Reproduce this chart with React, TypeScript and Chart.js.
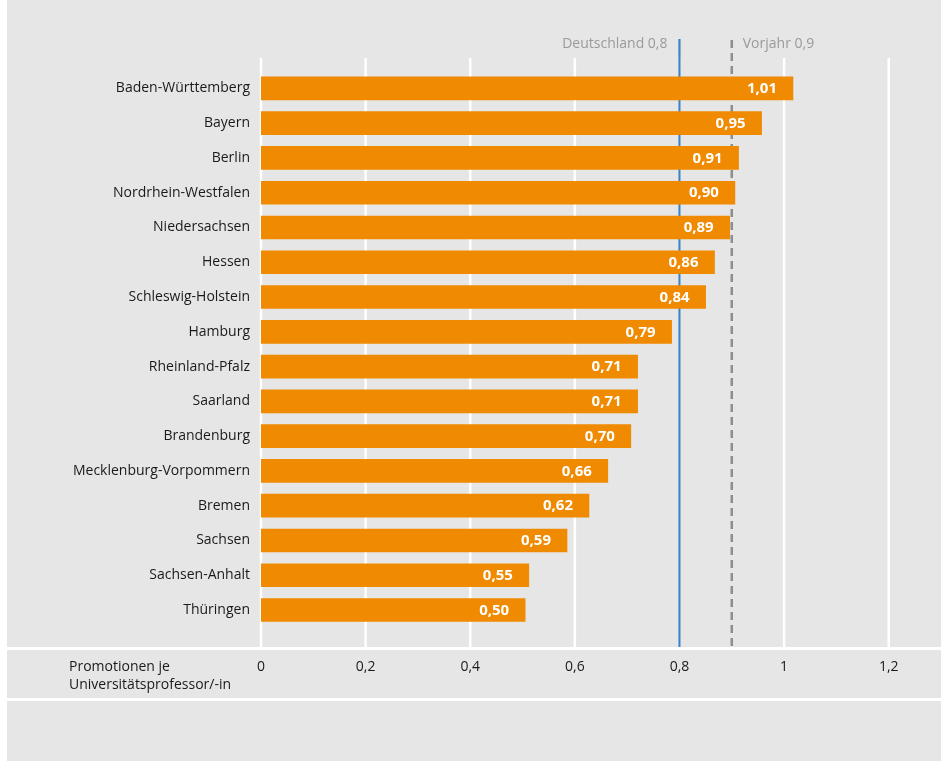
import React, { useEffect, useRef } from "react";
import { Chart, registerables } from "chart.js";

Chart.register(...registerables);

const categories = [
  "Baden-Württemberg",
  "Bayern",
  "Berlin",
  "Nordrhein-Westfalen",
  "Niedersachsen",
  "Hessen",
  "Schleswig-Holstein",
  "Hamburg",
  "Rheinland-Pfalz",
  "Saarland",
  "Brandenburg",
  "Mecklenburg-Vorpommern",
  "Bremen",
  "Sachsen",
  "Sachsen-Anhalt",
  "Thüringen",
];
// bar lengths
const values = [1.017, 0.957, 0.913, 0.906, 0.896, 0.867, 0.85, 0.785, 0.72, 0.72, 0.707, 0.663, 0.627, 0.585, 0.512, 0.505];
// value labels as printed in the picture
const valueLabels = ["1,01", "0,95", "0,91", "0,90", "0,89", "0,86", "0,84", "0,79", "0,71", "0,71", "0,70", "0,66", "0,62", "0,59", "0,55", "0,50"];
const germanyValue = 0.8;
const germanyLabel = "Deutschland 0,8";
const previousYearValue = 0.9;
const previousYearLabel = "Vorjahr 0,9";
const axisTitleLines = ["Promotionen je", "Universitätsprofessor/-in"];
const tickValues = [0, 0.2, 0.4, 0.6, 0.8, 1, 1.2];

const FONT = "'Open Sans', 'Noto Sans', sans-serif";
const W = 934;
const H = 761;

const fmt = (v: number) => String(Math.round(v * 10) / 10).replace(".", ",");

const decorPlugin = {
  id: "decor",
  beforeDatasetsDraw(chart: any) {
    const ctx = chart.ctx;
    const xs = chart.scales.x;
    ctx.save();
    // horizontal separators
    ctx.strokeStyle = "#ffffff";
    ctx.lineWidth = 3;
    [648.5, 699.5].forEach((y) => {
      ctx.beginPath();
      ctx.moveTo(0, y);
      ctx.lineTo(W, y);
      ctx.stroke();
    });
    // vertical gridlines
    ctx.lineWidth = 2.5;
    tickValues.forEach((v) => {
      const x = xs.getPixelForValue(v);
      ctx.beginPath();
      ctx.moveTo(x, 58);
      ctx.lineTo(x, 647);
      ctx.stroke();
    });
    // Germany line
    const gx = xs.getPixelForValue(germanyValue);
    ctx.strokeStyle = "#3f82c4";
    ctx.lineWidth = 2.2;
    ctx.beginPath();
    ctx.moveTo(gx, 39);
    ctx.lineTo(gx, 647);
    ctx.stroke();
    // previous-year line
    const px = xs.getPixelForValue(previousYearValue);
    ctx.strokeStyle = "#8e8e8e";
    ctx.lineWidth = 2.5;
    ctx.setLineDash([8, 5]);
    ctx.beginPath();
    ctx.moveTo(px, 40);
    ctx.lineTo(px, 647);
    ctx.stroke();
    ctx.setLineDash([]);
    // labels
    ctx.font = `14px ${FONT}`;
    ctx.fillStyle = "#9a9a9a";
    ctx.textBaseline = "middle";
    ctx.textAlign = "right";
    ctx.fillText(germanyLabel, gx - 12, 44);
    ctx.textAlign = "left";
    ctx.fillText(previousYearLabel, px + 11, 44);
    // axis title
    ctx.fillStyle = "#1a1a1a";
    ctx.fillText(axisTitleLines[0], 62, 667);
    ctx.fillText(axisTitleLines[1], 62, 685);
    ctx.restore();
  },
  afterDatasetsDraw(chart: any) {
    const ctx = chart.ctx;
    const meta = chart.getDatasetMeta(0);
    ctx.save();
    ctx.font = `bold 15px ${FONT}`;
    ctx.fillStyle = "#ffffff";
    ctx.textAlign = "right";
    ctx.textBaseline = "middle";
    meta.data.forEach((bar: any, i: number) => {
      ctx.fillText(valueLabels[i], bar.x - 16, bar.y + 0.5);
    });
    ctx.restore();
  },
};

export default function App() {
  const ref = useRef<HTMLCanvasElement | null>(null);
  useEffect(() => {
    if (!ref.current) return;
    const chart = new Chart(ref.current, {
      type: "bar",
      data: {
        labels: categories,
        datasets: [
          {
            data: values,
            backgroundColor: "#f08a00",
            borderWidth: 0,
            barThickness: 23,
          },
        ],
      },
      options: {
        indexAxis: "y",
        animation: false,
        responsive: false,
        maintainAspectRatio: false,
        layout: { padding: { top: 71, left: 0, right: 0, bottom: 0 } },
        plugins: { legend: { display: false }, tooltip: { enabled: false } },
        scales: {
          x: {
            type: "linear",
            min: 0,
            max: 1.3,
            border: { display: false },
            grid: { display: false, drawTicks: false },
            ticks: {
              stepSize: 0.2,
              padding: 31,
              color: "#1a1a1a",
              font: { family: FONT, size: 14 },
              maxRotation: 0,
              callback: (v: any) => fmt(Number(v)),
            },
            afterBuildTicks: (scale: any) => {
              scale.ticks = scale.ticks.filter((t: any) => t.value <= 1.2001);
            },
            afterFit: (scale: any) => {
              scale.height = 133.6;
            },
          },
          y: {
            type: "category",
            border: { display: false },
            grid: { display: false, drawTicks: false },
            ticks: {
              padding: 11,
              color: "#1a1a1a",
              font: { family: FONT, size: 14 },
            },
            afterFit: (scale: any) => {
              scale.width = 254;
            },
          },
        },
      },
      plugins: [decorPlugin],
    } as any);
    return () => chart.destroy();
  }, []);
  return (
    <div
      style={{
        position: "absolute",
        left: 7,
        top: 0,
        width: W,
        height: H,
        background: "#e6e6e6",
      }}
    >
      <canvas ref={ref} width={W} height={H} style={{ width: W, height: H, display: "block" }} />
    </div>
  );
}
